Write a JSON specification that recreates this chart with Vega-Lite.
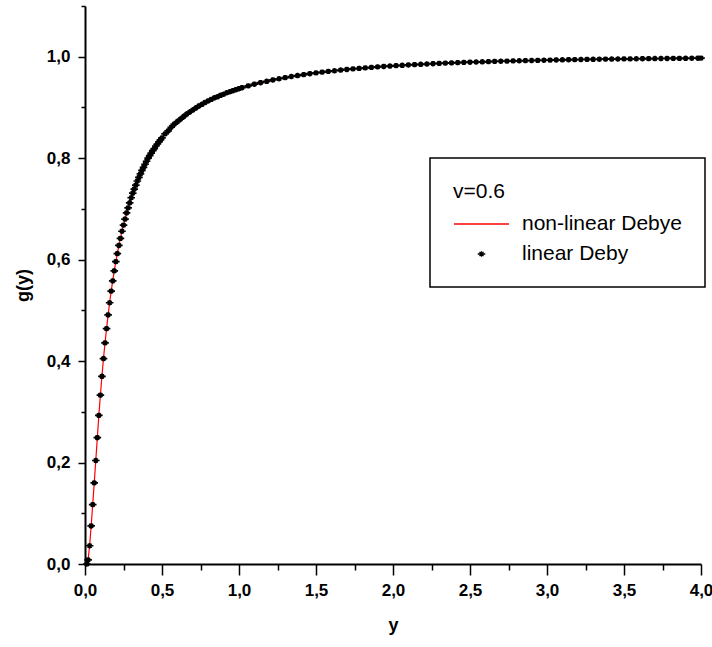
{
 "$schema": "https://vega.github.io/schema/vega-lite/v6.json",
 "width": 616,
 "height": 558,
 "autosize": {"type": "none"},
 "padding": {"left": 85, "top": 6, "right": 11, "bottom": 83},
 "background": "#ffffff",
 "datasets": {
  "curve": [
   {"x":0.012,"g":0},{"x":0.02,"g":0.008},{"x":0.03,"g":0.036},{"x":0.04,"g":0.075},{"x":0.05,"g":0.117},
   {"x":0.06,"g":0.160},{"x":0.07,"g":0.204},{"x":0.08,"g":0.249},{"x":0.09,"g":0.293},{"x":0.10,"g":0.333},
   {"x":0.11,"g":0.370},{"x":0.12,"g":0.405},{"x":0.13,"g":0.436},{"x":0.14,"g":0.464},{"x":0.15,"g":0.491},
   {"x":0.16,"g":0.515},{"x":0.17,"g":0.538},{"x":0.18,"g":0.558},{"x":0.19,"g":0.578},{"x":0.20,"g":0.596},
   {"x":0.21,"g":0.612},{"x":0.22,"g":0.628},{"x":0.23,"g":0.642},{"x":0.24,"g":0.656},{"x":0.25,"g":0.668},
   {"x":0.26,"g":0.680},{"x":0.27,"g":0.692},{"x":0.28,"g":0.702},{"x":0.29,"g":0.712},{"x":0.30,"g":0.722},
   {"x":0.31,"g":0.731},{"x":0.32,"g":0.739},{"x":0.33,"g":0.747},{"x":0.34,"g":0.755},{"x":0.35,"g":0.762},
   {"x":0.36,"g":0.769},{"x":0.37,"g":0.776},{"x":0.38,"g":0.782},{"x":0.39,"g":0.788},{"x":0.40,"g":0.794},
   {"x":0.41,"g":0.800},{"x":0.42,"g":0.805},{"x":0.43,"g":0.810},{"x":0.44,"g":0.815},{"x":0.45,"g":0.819},
   {"x":0.46,"g":0.824},{"x":0.47,"g":0.828},{"x":0.48,"g":0.832},{"x":0.49,"g":0.836},{"x":0.50,"g":0.840},
   {"x":0.52,"g":0.848},{"x":0.54,"g":0.854},{"x":0.56,"g":0.861},{"x":0.58,"g":0.867},{"x":0.60,"g":0.872},
   {"x":0.62,"g":0.877},{"x":0.64,"g":0.882},{"x":0.66,"g":0.887},{"x":0.68,"g":0.891},{"x":0.70,"g":0.895},
   {"x":0.72,"g":0.899},{"x":0.74,"g":0.903},{"x":0.76,"g":0.906},{"x":0.78,"g":0.910},{"x":0.80,"g":0.913},
   {"x":0.82,"g":0.916},{"x":0.84,"g":0.919},{"x":0.86,"g":0.921},{"x":0.88,"g":0.924},{"x":0.90,"g":0.926},
   {"x":0.92,"g":0.929},{"x":0.94,"g":0.931},{"x":0.96,"g":0.933},{"x":0.98,"g":0.935},{"x":1.00,"g":0.937},
   {"x":1.02,"g":0.9389},{"x":1.06,"g":0.9425},{"x":1.10,"g":0.9458},{"x":1.14,"g":0.9488},{"x":1.18,"g":0.9516},
   {"x":1.22,"g":0.9542},{"x":1.26,"g":0.9566},{"x":1.30,"g":0.9589},{"x":1.34,"g":0.9610},{"x":1.38,"g":0.9629},
   {"x":1.42,"g":0.9648},{"x":1.46,"g":0.9665},{"x":1.50,"g":0.9681},{"x":1.54,"g":0.9697},{"x":1.58,"g":0.9711},
   {"x":1.62,"g":0.9724},{"x":1.66,"g":0.9737},{"x":1.70,"g":0.9749},{"x":1.74,"g":0.9760},{"x":1.78,"g":0.9771},
   {"x":1.82,"g":0.9781},{"x":1.86,"g":0.9791},{"x":1.90,"g":0.9800},{"x":1.94,"g":0.9808},{"x":1.98,"g":0.9816},
   {"x":2.02,"g":0.9824},{"x":2.06,"g":0.9831},{"x":2.10,"g":0.9838},{"x":2.14,"g":0.9845},{"x":2.18,"g":0.9851},
   {"x":2.22,"g":0.9857},{"x":2.26,"g":0.9863},{"x":2.30,"g":0.9868},{"x":2.34,"g":0.9874},{"x":2.38,"g":0.9879},
   {"x":2.42,"g":0.9883},{"x":2.46,"g":0.9888},{"x":2.50,"g":0.9892},{"x":2.54,"g":0.9896},{"x":2.58,"g":0.9900},
   {"x":2.62,"g":0.9904},{"x":2.66,"g":0.9908},{"x":2.70,"g":0.9911},{"x":2.74,"g":0.9914},{"x":2.78,"g":0.9918},
   {"x":2.82,"g":0.9921},{"x":2.86,"g":0.9923},{"x":2.90,"g":0.9926},{"x":2.94,"g":0.9929},{"x":2.98,"g":0.9931},
   {"x":3.02,"g":0.9934},{"x":3.06,"g":0.9936},{"x":3.10,"g":0.9939},{"x":3.14,"g":0.9941},{"x":3.18,"g":0.9943},
   {"x":3.22,"g":0.9945},{"x":3.26,"g":0.9947},{"x":3.30,"g":0.9949},{"x":3.34,"g":0.9950},{"x":3.38,"g":0.9952},
   {"x":3.42,"g":0.9954},{"x":3.46,"g":0.9955},{"x":3.50,"g":0.9957},{"x":3.54,"g":0.9958},{"x":3.58,"g":0.9960},
   {"x":3.62,"g":0.9961},{"x":3.66,"g":0.9962},{"x":3.70,"g":0.9964},{"x":3.74,"g":0.9965},{"x":3.78,"g":0.9966},
   {"x":3.82,"g":0.9967},{"x":3.86,"g":0.9968},{"x":3.90,"g":0.9969},{"x":3.94,"g":0.9970},{"x":3.98,"g":0.9971},
   {"x":4.00,"g":0.9972}
  ]
 },
 "data": {"name": "curve"},
 "resolve": {"axis": {"x": "independent", "y": "independent"}},
 "layer": [
  {
   "mark": {"type": "line", "color": "#ff0000", "strokeWidth": 1.2},
   "encoding": {
    "x": {"field": "x", "type": "quantitative",
     "scale": {"domain": [0, 4], "nice": false, "zero": false},
     "axis": {"orient": "bottom", "values": [0, 0.5, 1, 1.5, 2, 2.5, 3, 3.5, 4], "format": ".1f",
      "tickSize": 11, "labelPadding": 7, "title": "y", "titlePadding": 18}},
    "y": {"field": "g", "type": "quantitative",
     "scale": {"domain": [0, 1.1], "nice": false, "zero": false},
     "axis": {"orient": "left", "values": [0, 0.2, 0.4, 0.6, 0.8, 1.0], "format": ".1f",
      "tickSize": 7, "labelPadding": 8, "title": "g(y)", "titlePadding": 14}}
   }
  },
  {
   "mark": {"type": "point", "filled": false, "size": 400, "strokeWidth": 1.7, "opacity": 1},
   "encoding": {
    "x": {"field": "x", "type": "quantitative",
     "scale": {"domain": [0, 4], "nice": false, "zero": false},
     "axis": {"orient": "bottom", "values": [0.25, 0.75, 1.25, 1.75, 2.25, 2.75, 3.25, 3.75],
      "labels": false, "domain": false, "tickSize": 6, "title": null}},
    "y": {"field": "g", "type": "quantitative",
     "scale": {"domain": [0, 1.1], "nice": false, "zero": false},
     "axis": {"orient": "left", "values": [0.1, 0.3, 0.5, 0.7, 0.9, 1.1],
      "labels": false, "domain": false, "tickSize": 4, "title": null}},
    "color": {"datum": "linear Deby", "type": "nominal",
     "scale": {"domain": ["non-linear Debye", "linear Deby"], "range": ["#ff0000", "#000000"]},
     "legend": {"title": "v=0.6"}},
    "shape": {"datum": "linear Deby", "type": "nominal",
     "scale": {"domain": ["non-linear Debye", "linear Deby"],
      "range": ["M-2.75,0H2.75", "M0,-0.27L0,0.27M-0.38,0L0.38,0M-0.2,-0.2L0.2,0.2M-0.2,0.2L0.2,-0.2"]},
     "legend": {"title": "v=0.6"}}
   }
  }
 ],
 "config": {
  "font": "Liberation Sans",
  "locale": {"number": {"decimal": ",", "thousands": ".", "grouping": [3], "currency": ["", ""]}},
  "view": {"stroke": null},
  "axis": {
   "grid": false,
   "domainColor": "#000000", "domainWidth": 2,
   "tickColor": "#000000", "tickWidth": 1.5,
   "labelFont": "Liberation Sans", "labelFontSize": 17, "labelFontWeight": "bold", "labelColor": "#000000",
   "labelFlush": false, "labelOverlap": false,
   "titleFont": "Liberation Sans", "titleFontSize": 18, "titleFontWeight": "bold", "titleColor": "#000000"
  },
  "legend": {
   "orient": "none", "legendX": 345, "legendY": 152,
   "padding": 23, "strokeColor": "#000000", "strokeWidth": 1.5, "fillColor": "#ffffff", "cornerRadius": 0,
   "titleFont": "Liberation Sans", "titleFontSize": 21, "titleFontWeight": "normal", "titleColor": "#000000",
   "labelFont": "Liberation Sans", "labelFontSize": 21, "labelColor": "#000000",
   "symbolSize": 400, "symbolOffset": 17.5, "symbolStrokeWidth": 1.3, "labelOffset": 29.5,
   "titlePadding": 11, "rowPadding": 9
  }
 }
}
